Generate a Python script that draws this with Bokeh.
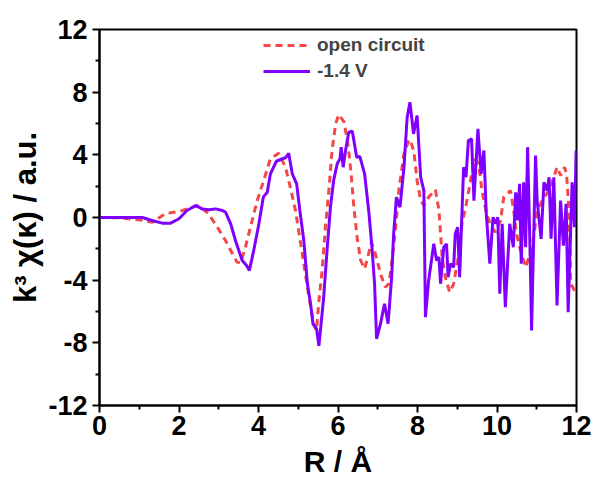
from bokeh.plotting import figure
from bokeh.models import FixedTicker, Legend, LegendItem
from bokeh.embed import file_html
from bokeh.resources import INLINE

# open circuit (red dashed)
r_oc = [0, 0.5, 1.0, 1.33, 1.66, 2.0, 2.4, 2.5, 2.74, 2.96, 3.17, 3.34, 3.46, 3.55, 3.67, 3.84,
        3.97, 4.13, 4.3, 4.51, 4.68, 4.8, 4.93, 5.01, 5.14, 5.27, 5.39, 5.46, 5.52, 5.6, 5.69,
        5.77, 5.85, 5.94, 6.02, 6.15, 6.25, 6.33, 6.4, 6.48, 6.57, 6.67, 6.75, 6.84, 6.94, 7.07,
        7.19, 7.28, 7.36, 7.45, 7.53, 7.66, 7.78, 7.82, 7.91, 7.99, 8.08, 8.16, 8.28, 8.45, 8.54,
        8.58, 8.62, 8.7, 8.81, 8.91, 9.01, 9.12, 9.22, 9.32, 9.43, 9.54, 9.62, 9.73, 9.84, 9.96,
        10.09, 10.17, 10.34, 10.42, 10.49, 10.59, 10.72, 10.83, 10.91, 11.01, 11.14, 11.3, 11.43,
        11.51, 11.6, 11.7, 11.75, 11.81, 11.84, 11.85, 11.98]
y_oc = [0, -0.02, -0.15, -0.3, 0.25, 0.38, 0.7, 0.75, 0.25, -0.6, -1.47, -2.3, -2.85, -2.9, -1.9,
        -0.2, 1.1, 2.36, 3.75, 4.1, 3.2, 1.93, 0.45, -0.83, -2.95, -5.1, -6.8, -7.2, -5.3, -3.4,
        -0.4, 1.72, 4.27, 5.98, 6.57, 6.1, 4.7, 2.79, 0.66, -1.26, -2.74, -3.27, -2.53, -1.58,
        -2.32, -3.6, -4.45, -4.23, -2.74, -0.62, 1.72, 4.07, 4.9, 4.96, 4.17, 2.36, 1.08, 0.77,
        1.3, 1.77, 0.45, -1.04, -2.53, -3.81, -4.77, -4.23, -2.74, -0.4, 0.77, 2.15, 3.75, 3.43,
        1.72, 0.34, -0.5, -0.94, -0.19, 1.3, 1.72, 0.45, -1.04, -2.1, -3.17, -2.32, -1.47, 0.45,
        1.08, 1.72, 2.57, 3.21, 2.68, 3.21, 2.79, 0.45, -2.1, -4.23, -4.77]

# -1.4 V (purple solid)
r_v = [0, 0.5, 1.08, 1.32, 1.58, 1.79, 2.0, 2.2, 2.42, 2.58, 2.75, 2.92, 3.09, 3.17, 3.3, 3.42,
       3.59, 3.7, 3.77, 3.88, 4.01, 4.12, 4.22, 4.3, 4.45, 4.6, 4.68, 4.76, 4.85, 4.96, 5.04,
       5.14, 5.23, 5.31, 5.37, 5.46, 5.52, 5.64, 5.73, 5.81, 5.89, 5.98, 6.05, 6.08, 6.13, 6.19,
       6.27, 6.36, 6.47, 6.55, 6.67, 6.78, 6.86, 6.92, 6.97, 7.07, 7.17, 7.26, 7.35, 7.4, 7.47,
       7.56, 7.66, 7.74, 7.81, 7.9, 7.99, 8.08, 8.16, 8.2, 8.28, 8.41, 8.48, 8.54, 8.58, 8.66,
       8.73, 8.77, 8.83, 8.91, 8.95, 9.01, 9.06, 9.16, 9.22, 9.28, 9.36, 9.42, 9.52, 9.6, 9.67,
       9.73, 9.82, 9.9, 9.96, 10.02, 10.07, 10.13, 10.21, 10.32, 10.41, 10.47, 10.51, 10.57,
       10.61, 10.67, 10.72, 10.77, 10.83, 10.87, 10.97, 11.01, 11.11, 11.18, 11.26, 11.31,
       11.36, 11.43, 11.51, 11.6, 11.67, 11.74, 11.79, 11.89, 11.95, 11.99]
y_v = [0, 0, 0, -0.19, -0.36, -0.36, -0.08, 0.45, 0.77, 0.55, 0.49, 0.55, 0.45, 0.34, -0.4, -1.47,
       -2.74, -3.06, -3.38, -2.1, -0.4, 1.3, 1.61, 2.79, 3.59, 3.75, 3.81, 4.1, 2.79, 2.15, 0.45,
       -1.47, -4.23, -5.5, -6.8, -7.1, -8.2, -5.09, -1.9, 0.66, 2.36, 3.43, 3.75, 4.49, 3.21,
       4.28, 5.44, 5.51, 3.85, 3.89, 2.79, 0.24, -2.1, -4.23, -7.74, -6.78, -5.5, -6.78, -3.81,
       -1.04, 1.3, 0.66, 3.21, 6.4, 7.36, 5.34, 6.51, 2.57, 1.72, -6.36, -4.02, -1.68, -2.74,
       -2.53, -4.23, -1.9, -1.68, -3.81, -2.95, -3.17, -1.04, -0.62, -3.81, 3.21, 2.57, 4.91,
       5.02, 1.08, 5.66, 2.79, 4.28, 0.24, -2.95, 0.02, -0.4, 0.02, -4.87, -0.4, -5.72, -0.4,
       -1.9, 1.61, -0.19, 2.15, -2.95, 2.25, -1.9, 4.49, -1.9, -7.21, 3.96, 1.08, -1.36, 2.25,
       1.72, 2.57, -1.36, 2.57, -5.62, 1.08, -1.79, 0.87, -6.04, 2.25, -0.62, 4.28]

x_ticks = [0, 2, 4, 6, 8, 10, 12]
y_ticks = [-12, -8, -4, 0, 4, 8, 12]
labels = ["open circuit", "-1.4 V"]

FONT = "Liberation Sans"

p = figure(width=598, height=484, output_backend="svg", toolbar_location=None,
           x_range=(0, 12), y_range=(-12, 12),
           min_border_left=99, min_border_right=22, min_border_top=29, min_border_bottom=79)
p.xgrid.visible = False
p.ygrid.visible = False
p.outline_line_color = "black"
p.outline_line_width = 2
p.background_fill_color = "white"
p.border_fill_color = "white"

r1 = p.line(r_oc, y_oc, line_color="#F44848", line_width=3, line_dash="7 5")
r2 = p.line(r_v, y_v, line_color="#8000FF", line_width=3)

for ax, ticks in ((p.xaxis[0], x_ticks), (p.yaxis[0], y_ticks)):
    ax.ticker = FixedTicker(ticks=ticks,
                            minor_ticks=[(ticks[i] + ticks[i + 1]) / 2 for i in range(len(ticks) - 1)])
    ax.major_label_overrides = {t: str(t) for t in ticks}
    ax.axis_line_width = 2
    ax.major_tick_line_width = 2
    ax.minor_tick_line_width = 2
    ax.major_tick_in = 0
    ax.major_tick_out = 7
    ax.minor_tick_in = 0
    ax.minor_tick_out = 4
    ax.major_label_text_font = FONT
    ax.major_label_text_font_style = "bold"
    ax.major_label_text_font_size = "27px"
    ax.major_label_text_color = "black"
    ax.axis_label_text_font = FONT
    ax.axis_label_text_font_style = "bold"
    ax.axis_label_text_color = "black"

p.xaxis.axis_label = "R / Å"
p.yaxis.axis_label = "k³ χ(κ) / a.u."
p.xaxis.axis_label_text_font_size = "30px"
p.yaxis.axis_label_text_font_size = "31px"
p.xaxis.major_label_standoff = 3
p.yaxis.major_label_standoff = 5
p.xaxis.axis_label_standoff = 7
p.yaxis.axis_label_standoff = 2

legend = Legend(items=[LegendItem(label=labels[0], renderers=[r1]),
                       LegendItem(label=labels[1], renderers=[r2])],
                location=(164, 323))
legend.margin = 0
legend.padding = 4
legend.spacing = 4
legend.glyph_width = 47
legend.glyph_height = 20
legend.label_standoff = 7
legend.label_text_font = FONT
legend.label_text_font_style = "bold"
legend.label_text_font_size = "19px"
legend.border_line_color = None
legend.background_fill_alpha = 0
p.add_layout(legend)

open("out.html", "w").write(file_html(p, INLINE))
